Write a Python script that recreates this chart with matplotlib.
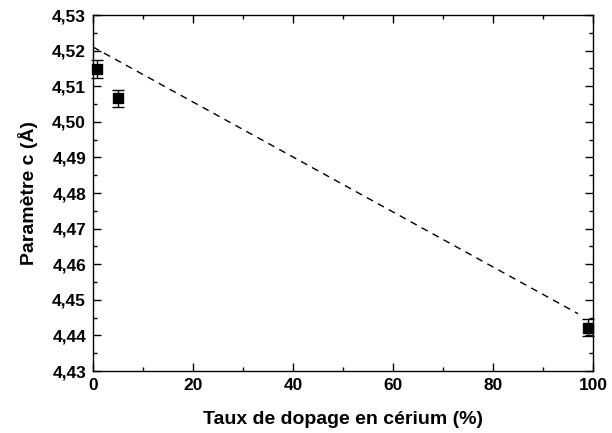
import numpy as np
import matplotlib
matplotlib.use("Agg")
import matplotlib.pyplot as plt
from matplotlib.ticker import MultipleLocator, FuncFormatter

plt.rcParams['font.family'] = ['Liberation Sans', 'DejaVu Sans']
plt.rcParams['font.weight'] = 'bold'

# measured points
dopage = [0.8, 5, 99]
param_c = [4.5149, 4.5066, 4.4422]
err_c = [0.0025, 0.0024, 0.0024]

# Vegard line (dashed)
vegard_x = [0, 97]
vegard_y = [4.521, 4.4461]

fig = plt.figure(figsize=(6.12, 4.33), dpi=100)
ax = fig.add_axes([93/612, 1 - 371/433, 500/612, 356/433])

ax.plot(vegard_x, vegard_y, 'k--', lw=1, dashes=(5, 4))
ax.errorbar(dopage, param_c, yerr=err_c, fmt='s', color='k', ms=7.5,
            capsize=4, elinewidth=1, capthick=1, clip_on=False)

ax.set_xlim(0, 100)
ax.set_ylim(4.43, 4.53)
ax.xaxis.set_major_locator(MultipleLocator(20))
ax.xaxis.set_minor_locator(MultipleLocator(10))
ax.yaxis.set_major_locator(MultipleLocator(0.01))
ax.yaxis.set_minor_locator(MultipleLocator(0.005))
ax.yaxis.set_major_formatter(FuncFormatter(lambda v, p: ('%.2f' % v).replace('.', ',')))
ax.tick_params(which='both', direction='in', top=True, right=True, labelsize=12.5, width=1)
ax.tick_params(which='major', length=6, pad=5)
ax.tick_params(which='minor', length=3)
for s in ax.spines.values():
    s.set_linewidth(1)

ax.set_xlabel('Taux de dopage en cérium (%)', fontsize=14, fontweight='bold', labelpad=13)
ax.set_ylabel('Paramètre c (Å)', fontsize=14, fontweight='bold', labelpad=10)

fig.savefig('out.png', dpi=100)
